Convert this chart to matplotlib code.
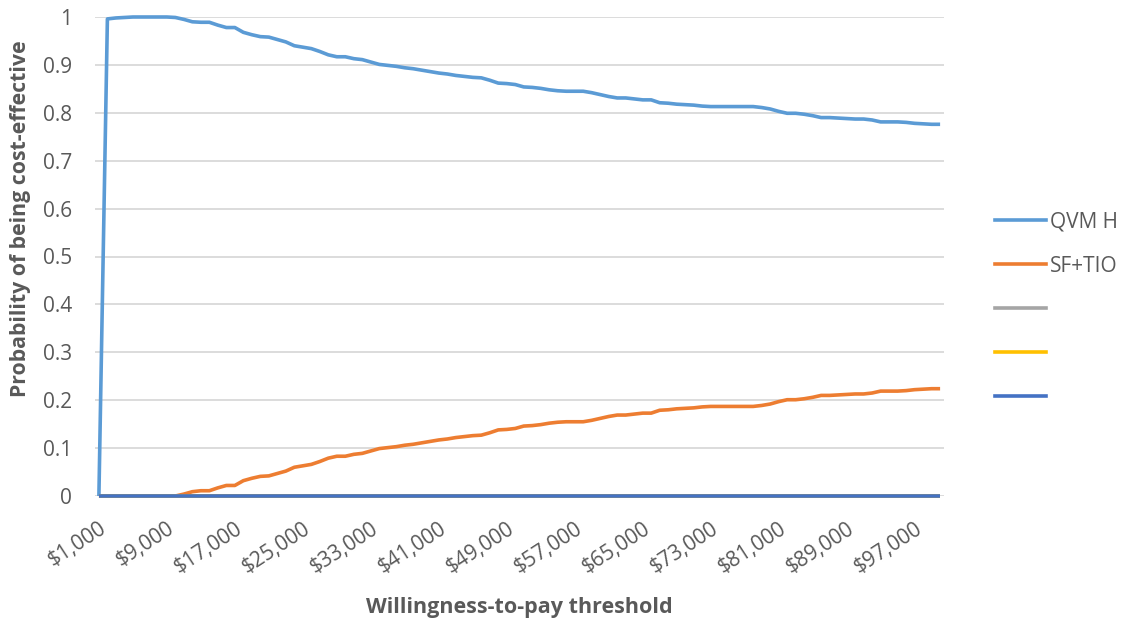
import matplotlib
matplotlib.use("Agg")
import matplotlib.pyplot as plt
from matplotlib.lines import Line2D

# willingness-to-pay thresholds, $1,000 to $100,000 in steps of $1,000
thresholds = [f"${k},000" for k in range(1, 101)]

qvm_h = [0.0, 0.996, 0.998, 0.999, 1.0, 1.0, 1.0, 1.0, 1.0, 0.999,
         0.995, 0.990, 0.989, 0.989, 0.983, 0.978, 0.978, 0.968, 0.963, 0.959,
         0.958, 0.953, 0.948, 0.940, 0.937, 0.934, 0.928, 0.921, 0.917, 0.917,
         0.913, 0.911, 0.906, 0.901, 0.899, 0.897, 0.894, 0.892, 0.889, 0.886,
         0.883, 0.881, 0.878, 0.876, 0.874, 0.873, 0.868, 0.862, 0.861, 0.859,
         0.854, 0.853, 0.851, 0.848, 0.846, 0.845, 0.845, 0.845, 0.842, 0.838,
         0.834, 0.831, 0.831, 0.829, 0.827, 0.827, 0.821, 0.820, 0.818, 0.817,
         0.816, 0.814, 0.813, 0.813, 0.813, 0.813, 0.813, 0.813, 0.811, 0.808,
         0.803, 0.799, 0.799, 0.797, 0.794, 0.790, 0.790, 0.789, 0.788, 0.787,
         0.787, 0.785, 0.781, 0.781, 0.781, 0.780, 0.778, 0.777, 0.776, 0.776]

sf_tio = [0.0, 0.0, 0.0, 0.0, 0.0, 0.0, 0.0, 0.0, 0.0, 0.0,
          0.004, 0.009, 0.011, 0.011, 0.017, 0.022, 0.022, 0.032, 0.037, 0.041,
          0.042, 0.047, 0.052, 0.060, 0.063, 0.066, 0.072, 0.079, 0.083, 0.083,
          0.087, 0.089, 0.094, 0.099, 0.101, 0.103, 0.106, 0.108, 0.111, 0.114,
          0.117, 0.119, 0.122, 0.124, 0.126, 0.127, 0.132, 0.138, 0.139, 0.141,
          0.146, 0.147, 0.149, 0.152, 0.154, 0.155, 0.155, 0.155, 0.158, 0.162,
          0.166, 0.169, 0.169, 0.171, 0.173, 0.173, 0.179, 0.180, 0.182, 0.183,
          0.184, 0.186, 0.187, 0.187, 0.187, 0.187, 0.187, 0.187, 0.189, 0.192,
          0.197, 0.201, 0.201, 0.203, 0.206, 0.210, 0.210, 0.211, 0.212, 0.213,
          0.213, 0.215, 0.219, 0.219, 0.219, 0.220, 0.222, 0.223, 0.224, 0.224]

# three unnamed series, all zero across the range
series3 = [0.0] * 100
series4 = [0.0] * 100
series5 = [0.0] * 100

series_names = ["QVM H", "SF+TIO", "", "", ""]
series_colors = ["#5B9BD5", "#ED7D31", "#A5A5A5", "#FFC000", "#4472C4"]

plt.rcParams['font.family'] = ['Open Sans', 'DejaVu Sans']
text_color = "#595959"

fig = plt.figure(figsize=(11.23, 6.2), dpi=100)
ax = fig.add_axes([95.5 / 1123, 1 - 496 / 620, 848 / 1123, 479 / 620])

x = list(range(len(thresholds)))
all_series = [qvm_h, sf_tio, series3, series4, series5]
for vals, col in zip(all_series, series_colors):
    ax.plot(x, vals, color=col, linewidth=2.6, clip_on=False, solid_capstyle='butt')

ax.set_xlim(-0.4, 99.4)
ax.set_ylim(0, 1)
ax.set_yticks([i / 10 for i in range(11)])
ax.set_yticklabels(["0"] + [f"{i / 10:.1f}" for i in range(1, 10)] + ["1"])
ax.set_xticks(x[::8])
ax.set_xticklabels(thresholds[::8], rotation=33, ha='right', va='top',
                   rotation_mode='anchor')

ax.grid(axis='y', color='#D9D9D9', linewidth=1.3)
ax.set_axisbelow(True)
for s in ax.spines.values():
    s.set_visible(False)
ax.tick_params(axis='both', length=0, labelsize=15, colors=text_color)
ax.tick_params(axis='y', pad=17)
ax.tick_params(axis='x', pad=16)

ax.set_xlabel("Willingness-to-pay threshold", fontsize=15.5, fontweight='bold',
              color=text_color, labelpad=14)
ax.set_ylabel("Probability of being cost-effective", fontsize=15.3, fontweight='bold',
              color=text_color)
# the y title sits above the middle of the axis, as in the source chart
ax.yaxis.set_label_coords(-0.076, 0.578)

handles = [Line2D([0], [0], color=c, linewidth=2.6) for c in series_colors]
fig.legend(handles, series_names, loc='center left', bbox_to_anchor=(976 / 1123, 0.5),
           frameon=False, fontsize=15, labelcolor=text_color, handlelength=2.45,
           handletextpad=0.2, labelspacing=1.1)

fig.savefig("out.png", dpi=100)
